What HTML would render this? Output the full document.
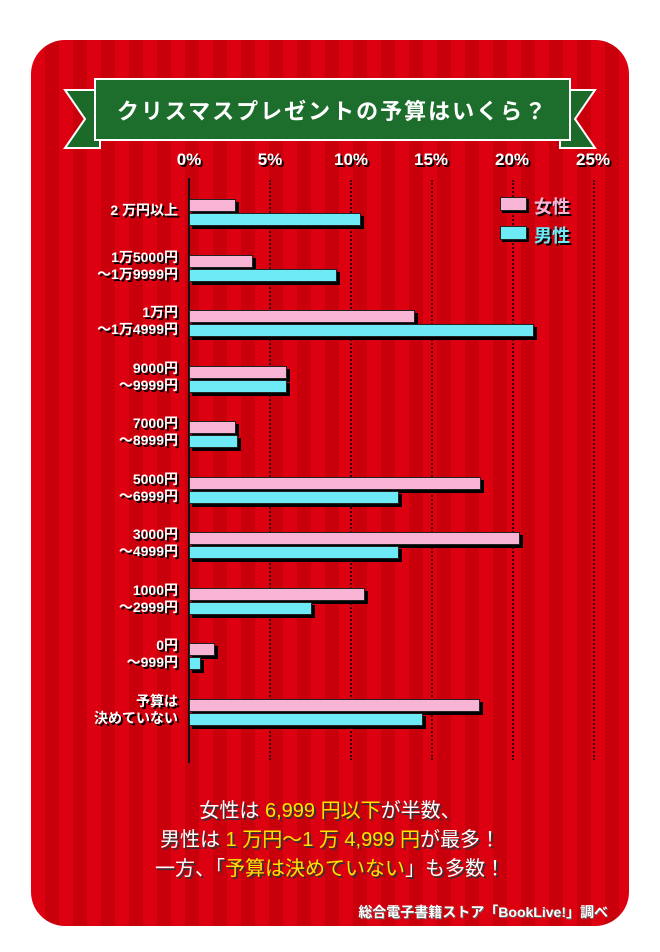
<!DOCTYPE html>
<html><head><meta charset="utf-8"><style>
body{margin:0;width:660px;height:952px;background:#fff;position:relative;overflow:hidden;font-family:"Liberation Sans","Noto Sans CJK JP",sans-serif}
.card{position:absolute;left:31px;top:40px;width:598px;height:886px;border-radius:34px;background:repeating-linear-gradient(90deg,#dc0010 0 14px,#c9000c 14px 28px)}
.t{position:absolute;color:#fff;font-weight:bold;text-shadow:2px 2px 0 #000;white-space:nowrap}
.lab{position:absolute;right:482px;text-align:right;color:#fff;font-weight:bold;font-size:14px;line-height:17px;text-shadow:2px 2px 0 #000;white-space:nowrap}
.bar{position:absolute;height:13px;border:1.5px solid #222;box-shadow:3px 3px 0 #000;box-sizing:border-box}
.p{background:#f7b4d4}.c{background:#6ee9f6}
.grid{position:absolute;top:180px;height:580px;border-left:2px dotted #400}
.tick{position:absolute;top:150px;color:#fff;font-weight:bold;font-size:17px;text-shadow:2px 2px 0 #000;transform:translateX(-50%)}
.msg{position:absolute;left:0;width:660px;text-align:center;color:#fff;font-size:20px;text-shadow:2px 2px 0 #333}
.y{color:#ffe400}
</style></head><body>
<div class="card"></div>
<svg style="position:absolute;left:0;top:0" width="660" height="160">
<polygon points="65,90 100,90 100,148 65,148 85,119" fill="#1b6a2a" stroke="#fff" stroke-width="2"/>
<polygon points="595,90 560,90 560,148 595,148 575,119" fill="#1b6a2a" stroke="#fff" stroke-width="2"/>
<rect x="95" y="79" width="475" height="61" fill="#1d6e2c" stroke="#fff" stroke-width="2"/>
</svg>
<div class="t" style="left:95px;width:475px;top:94px;text-align:center;font-size:22px;letter-spacing:2px;text-shadow:none">クリスマスプレゼントの予算はいくら？</div>
<div class="grid" style="left:269px"></div><div class="grid" style="left:350px"></div><div class="grid" style="left:431px"></div><div class="grid" style="left:512px"></div><div class="grid" style="left:593px"></div>
<div style="position:absolute;left:188px;top:178px;width:2px;height:585px;background:#111"></div>
<div class="tick" style="left:189px">0%</div><div class="tick" style="left:270px">5%</div><div class="tick" style="left:351px">10%</div><div class="tick" style="left:431px">15%</div><div class="tick" style="left:512px">20%</div><div class="tick" style="left:593px">25%</div>
<div class="bar p" style="left:500px;top:197px;width:27px;height:14px;box-shadow:2px 2px 0 #000"></div><div class="t" style="left:534px;top:193px;font-size:18px;color:#f7b4d4">女性</div>
<div class="bar c" style="left:500px;top:226px;width:27px;height:14px;box-shadow:2px 2px 0 #000"></div><div class="t" style="left:534px;top:222px;font-size:18px;color:#6ee9f6">男性</div>
<div class="lab" style="top:202px">2 万円以上</div>
<div class="lab" style="top:249px">1万5000円<br>～1万9999円</div>
<div class="lab" style="top:304px">1万円<br>～1万4999円</div>
<div class="lab" style="top:360px">9000円<br>～9999円</div>
<div class="lab" style="top:415px">7000円<br>～8999円</div>
<div class="lab" style="top:471px">5000円<br>～6999円</div>
<div class="lab" style="top:526px">3000円<br>～4999円</div>
<div class="lab" style="top:582px">1000円<br>～2999円</div>
<div class="lab" style="top:637px">0円<br>～999円</div>
<div class="lab" style="top:693px">予算は<br>決めていない</div>
<div class="bar p" style="left:189px;top:199px;width:47px"></div><div class="bar c" style="left:189px;top:213px;width:172px"></div>
<div class="bar p" style="left:189px;top:255px;width:64px"></div><div class="bar c" style="left:189px;top:269px;width:148px"></div>
<div class="bar p" style="left:189px;top:310px;width:226px"></div><div class="bar c" style="left:189px;top:324px;width:345px"></div>
<div class="bar p" style="left:189px;top:366px;width:98px"></div><div class="bar c" style="left:189px;top:380px;width:98px"></div>
<div class="bar p" style="left:189px;top:421px;width:47px"></div><div class="bar c" style="left:189px;top:435px;width:49px"></div>
<div class="bar p" style="left:189px;top:477px;width:292px"></div><div class="bar c" style="left:189px;top:491px;width:210px"></div>
<div class="bar p" style="left:189px;top:532px;width:331px"></div><div class="bar c" style="left:189px;top:546px;width:210px"></div>
<div class="bar p" style="left:189px;top:588px;width:176px"></div><div class="bar c" style="left:189px;top:602px;width:123px"></div>
<div class="bar p" style="left:189px;top:643px;width:26px"></div><div class="bar c" style="left:189px;top:657px;width:12px"></div>
<div class="bar p" style="left:189px;top:699px;width:291px"></div><div class="bar c" style="left:189px;top:713px;width:234px"></div>
<div class="msg" style="top:794px">女性は <span class="y">6,999 円以下</span>が半数、</div>
<div class="msg" style="top:823px">男性は <span class="y">1 万円～1 万 4,999 円</span>が最多！</div>
<div class="msg" style="top:852px">一方、「<span class="y">予算は決めていない</span>」も多数！</div>
<div class="t" style="right:52px;top:902px;font-size:14px;text-shadow:1px 1px 0 #666">総合電子書籍ストア「BookLive!」調べ</div>
</body></html>
